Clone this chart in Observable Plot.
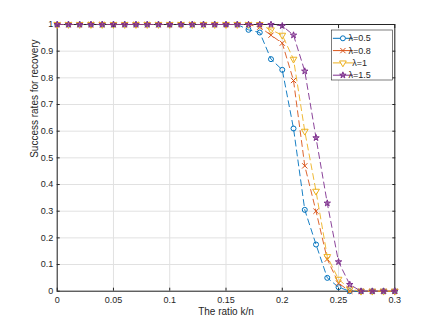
<!DOCTYPE html>
<html><head><meta charset="utf-8">
<script src="https://cdn.jsdelivr.net/npm/d3@7"></script>
<script src="https://cdn.jsdelivr.net/npm/@observablehq/plot@0.6"></script>
<style>
body{margin:0;background:#fff}
#chart{position:relative;width:436px;height:327px}
</style>
</head><body><div id="chart"></div>
<script>
// ---- data ----
const ratio = [0,0.01,0.02,0.03,0.04,0.05,0.06,0.07,0.08,0.09,0.10,0.11,0.12,0.13,0.14,0.15,0.16,0.17,0.18,0.19,0.20,0.21,0.22,0.23,0.24,0.25,0.26,0.27,0.28,0.29,0.30];
const lam05 = [1,1,1,1,1,1,1,1,1,1,1,1,1,1,1,1,1,0.98,0.97,0.87,0.83,0.61,0.305,0.175,0.05,0.015,0,0,0,0,0];
const lam08 = [1,1,1,1,1,1,1,1,1,1,1,1,1,1,1,1,1,1,0.99,0.96,0.93,0.79,0.47,0.30,0.12,0.03,0,0,0,0,0];
const lam10 = [1,1,1,1,1,1,1,1,1,1,1,1,1,1,1,1,1,1,1,0.98,0.96,0.87,0.60,0.375,0.13,0.045,0.008,0,0,0,0];
const lam15 = [1,1,1,1,1,1,1,1,1,1,1,1,1,1,1,1,1,1,1,1,0.995,0.96,0.825,0.575,0.33,0.11,0.025,0,0,0,0];
const seriesNames = ["λ=0.5","λ=0.8","λ=1","λ=1.5"];
const seriesValues = [lam05, lam08, lam10, lam15];
const seriesColors = ["#0072BD","#D95319","#EDB120","#7E2F8E"];
const seriesSymbols = ["circle","times","triangle","star"];
const xTicks = [0,0.05,0.1,0.15,0.2,0.25,0.3];
const xTickLabels = ["0","0.05","0.1","0.15","0.2","0.25","0.3"];
const yTicks = [0,0.1,0.2,0.3,0.4,0.5,0.6,0.7,0.8,0.9,1];
const yTickLabels = ["0","0.1","0.2","0.3","0.4","0.5","0.6","0.7","0.8","0.9","1"];
const xLabel = "The ratio k/n";
const yLabel = "Success rates for recovery";

// ---- layout ----
const W = 436, H = 327;
const mL = 56.7, mR = 41.7, mT = 24, mB = 36.3;
const axisColor = "#262626";
const gridColor = "#e1e1e1";
const symbolStyle = [
  {r: 2.5, fillOpacity: 0, strokeWidth: 1, rotate: 0},
  {r: 2.5, fillOpacity: 0, strokeWidth: 1, rotate: 0},
  {r: 2.5, fillOpacity: 0, strokeWidth: 1, rotate: 180},
  {r: 2.0, fillOpacity: 0.55, strokeWidth: 1, rotate: 0}
];

const seriesMarks = [];
seriesNames.forEach((name, k) => {
  const rows = ratio.map((x, i) => ({x, y: seriesValues[k][i], s: name}));
  seriesMarks.push(Plot.line(rows, {x: "x", y: "y", stroke: seriesColors[k], strokeWidth: 0.9, strokeDasharray: "6,4"}));
  const st = symbolStyle[k];
  seriesMarks.push(Plot.dot(rows, {x: "x", y: "y", symbol: seriesSymbols[k], r: st.r, stroke: seriesColors[k],
    fill: seriesColors[k], fillOpacity: st.fillOpacity, strokeWidth: st.strokeWidth, rotate: st.rotate}));
});

const chart = Plot.plot({
  width: W, height: H,
  marginLeft: mL, marginRight: mR, marginTop: mT, marginBottom: mB,
  style: {fontFamily: "'Liberation Sans', Arial, sans-serif", fontSize: "9px", color: axisColor, background: "white"},
  x: {domain: [0, 0.3]},
  y: {domain: [0, 1]},
  marks: [
    Plot.ruleX(xTicks, {stroke: gridColor}),
    Plot.ruleY(yTicks, {stroke: gridColor}),
    Plot.axisX(xTicks, {anchor: "bottom", tickSize: -3, tickPadding: 8, tickFormat: d => xTickLabels[xTicks.indexOf(d)], label: null, color: axisColor}),
    Plot.axisX(xTicks, {anchor: "top", tickSize: -3, fill: "none", label: null, stroke: axisColor}),
    Plot.axisY(yTicks, {anchor: "left", tickSize: -3, tickPadding: 7, tickFormat: d => yTickLabels[yTicks.indexOf(d)], label: null, color: axisColor}),
    Plot.axisY(yTicks, {anchor: "right", tickSize: -3, fill: "none", label: null, stroke: axisColor}),
    Plot.frame({stroke: axisColor, strokeWidth: 1}),
    Plot.text([xLabel], {frameAnchor: "bottom", dy: 24, fontSize: 10, fill: axisColor}),
    Plot.text([yLabel], {frameAnchor: "left", rotate: -90, dx: -22, fontSize: 10, fill: axisColor}),
    ...seriesMarks
  ]
});
document.getElementById("chart").appendChild(chart);

// ---- legend (inside the axes, north-east) ----
const svg = d3.select(chart);
const lgRight = W - mR - 2, lgTop = mT + 6, lgW = 61, lgH = 50;
const lg = svg.append("g").attr("transform", `translate(${lgRight - lgW},${lgTop})`);
lg.append("rect").attr("width", lgW).attr("height", lgH).attr("fill", "white").attr("stroke", axisColor).attr("stroke-width", 0.6);
const d3Sym = {circle: d3.symbolCircle, times: d3.symbolTimes, triangle: d3.symbolTriangle, star: d3.symbolStar};
seriesNames.forEach((name, k) => {
  const yy = 8.3 + k * 12.3;
  const st = symbolStyle[k];
  lg.append("line").attr("x1", 1.6).attr("x2", 21.6).attr("y1", yy).attr("y2", yy)
    .attr("stroke", seriesColors[k]).attr("stroke-width", 1);
  lg.append("path").attr("d", d3.symbol(d3Sym[seriesSymbols[k]], st.r * st.r * Math.PI)())
    .attr("transform", `translate(11.6,${yy}) rotate(${st.rotate})`)
    .attr("fill", st.fillOpacity > 0 ? seriesColors[k] : "white").attr("fill-opacity", st.fillOpacity > 0 ? st.fillOpacity : 1)
    .attr("stroke", seriesColors[k]).attr("stroke-width", 1);
  lg.append("text").attr("x", 28.3).attr("y", yy).attr("dy", "0.35em")
    .attr("font-size", 9).attr("fill", axisColor).text(name);
});
</script>
</body></html>
